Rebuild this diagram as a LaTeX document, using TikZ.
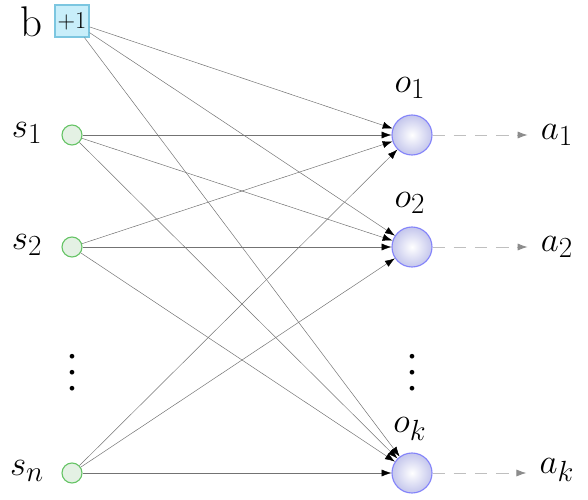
\documentclass[tikz,border=0pt]{standalone}
\usepackage{tikz}
\usetikzlibrary{arrows.meta,positioning}
\definecolor{BoxFill}{HTML}{C8EEFA}
\definecolor{BoxLine}{HTML}{7CC6E0}
\definecolor{InFill}{HTML}{E4F1E4}
\definecolor{InLine}{HTML}{66C466}
\definecolor{OutLine}{HTML}{8484FA}
\definecolor{OutShade}{HTML}{C4C6EC}
\newcommand{\colvdots}{\vbox{\baselineskip11.4pt\lineskiplimit0pt\hbox{$\bullet$}\hbox{$\bullet$}\hbox{$\bullet$}}}

\begin{document}
\begin{tikzpicture}[x=0.025cm,y=-0.025cm,
    biasbox/.style={draw=BoxLine,fill=BoxFill,line width=0.8pt,minimum width=0.85cm,minimum height=0.8cm,inner sep=0pt,font=\fontsize{18}{20}\selectfont},
    innode/.style={circle,draw=InLine,fill=InFill,line width=0.8pt,minimum size=0.5cm,inner sep=0pt},
    outnode/.style={circle,draw=OutLine,inner color=white,outer color=OutShade,line width=0.8pt,minimum size=1cm,inner sep=0pt},
    lbl/.style={font=\fontsize{30.5}{34}\selectfont},
    dotcol/.style={inner sep=0pt,font=\fontsize{8.5}{10}\selectfont},
    weight/.style={draw=black!55,line width=0.35pt,-{Latex[length=7pt,width=5pt,color=black]}},
    outarrow/.style={draw=black!25,line width=0.6pt,dash pattern=on 9pt off 6pt,-{Latex[length=7pt,width=5pt,color=black!45]}}]
    \useasboundingbox (0,0) rectangle (588,500);

    % inputs
    \node[biasbox] (bias) at (72,21) {$+1$};
    \node[innode] (s1) at (72,135) {};
    \node[innode] (s2) at (72,247) {};
    \node[innode] (sn) at (72,473) {};
    \node[lbl] (lb) at (31,22) {b};
    \node[lbl] (ls1) at (27,133) {$s_1$};
    \node[lbl] (ls2) at (27,245) {$s_2$};
    \node[lbl] (lsn) at (27,471) {$s_n$};
    \node[dotcol] (dotsin) at (72,373) {\colvdots};

    % outputs
    \node[outnode] (o1) at (412,135) {};
    \node[outnode] (o2) at (412,247) {};
    \node[outnode] (ok) at (412,473) {};
    \node[lbl] (lo1) at (410,88) {$o_1$};
    \node[lbl] (lo2) at (410,203) {$o_2$};
    \node[lbl] (lok) at (410,429) {$o_k$};
    \node[dotcol] (dotsout) at (412,373) {\colvdots};

    % actions
    \node[lbl] (a1) at (557,135) {$a_1$};
    \node[lbl] (a2) at (557,247) {$a_2$};
    \node[lbl] (ak) at (557,470) {$a_k$};

    % weights
    \foreach \i in {bias,s1,s2,sn}{
      \foreach \j in {o1,o2,ok}{
        \draw[weight] (\i) -- (\j);
      }
    }

    \foreach \j/\a in {o1/a1,o2/a2,ok/ak}{
      \draw[outarrow,shorten >=6pt] (\j) -- (\j.east -| \a.west);
    }
  \end{tikzpicture}
\end{document}
